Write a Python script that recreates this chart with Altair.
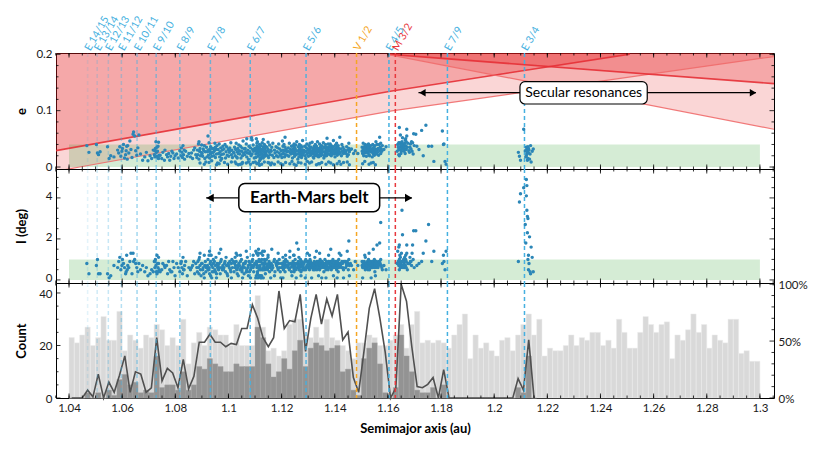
import altair as alt
import pandas as pd
import numpy as np

# ---------------- data ----------------
A_DOMAIN = [1.0351, 1.3053]
E_DOMAIN = [-0.0035, 0.2023]
I_DOMAIN = [-0.15, 5.41]
N_DOMAIN = [0, 43.8]
P_DOMAIN = [0, 101]

# mean-motion resonances
RES_NAME = ["E 14/15", "E 13/14", "E 12/13", "E 11/12", "E 10/11", "E 9/10", "E 8/9",
            "E 7/8", "E 6/7", "E 5/6", "V 1/2", "E 4/5", "M 3/2", "E 7/9", "E 3/4"]
RES_A = [1.0470, 1.0506, 1.0548, 1.0597, 1.0656, 1.0728, 1.0817,
         1.0932, 1.1082, 1.1292, 1.1482, 1.1604, 1.1628, 1.1824, 1.2114]
RES_BODY = ["E"] * 10 + ["V", "E", "M", "E", "E"]
RES_ALPHA = [0.15, 0.25, 0.3, 0.4, 0.5, 0.6, 0.65, 0.75, 0.85, 0.9, 1, 1, 1, 1, 1]

# secular resonance boundaries (a, e)
SEC_A_A = [1.035, 1.1615, 1.251]
SEC_A_E = [0.029, 0.135, 0.2]
SEC_B_A = [1.035, 1.044, 1.1615, 1.3053]
SEC_B_E = [-0.0077, 0.0, 0.0996, 0.196]
SEC_C_A = [1.1597, 1.3053]
SEC_C_E = [0.2, 0.148]
SEC_D_A = [1.1597, 1.3053]
SEC_D_E = [0.2, 0.067]
# band between B and A (upper edge follows A, then the top)
BAND1_A = [1.035, 1.044, 1.1615, 1.251, 1.3053]
BAND1_LO = [-0.0077, 0.0, 0.0996, 0.1596, 0.196]
BAND1_HI = [0.029, 0.0366, 0.135, 0.2023, 0.2023]

# histograms (bins of 0.002 au from 1.04)
BIN0, BINW = 1.04, 0.002
LIGHT = [23, 21, 24, 27, 20, 23, 31, 22, 22, 33,
         18, 24, 22, 19, 24, 23, 28, 26, 20, 23,
         20, 30, 13, 21, 25, 20, 27, 26, 24, 24,
         20, 28, 20, 20, 20, 39, 27, 18, 19, 16,
         18, 28, 30, 30, 24, 23, 27, 23, 30, 23,
         22, 20, 18, 15, 21, 21, 24, 23, 20, 20,
         22, 24, 28, 19, 28, 33, 21, 22, 21, 22,
         21, 19, 24, 28, 32, 15, 24, 19, 21, 18,
         16, 22, 23, 18, 24, 28, 32, 24, 30, 16,
         19, 18, 18, 20, 24, 20, 23, 22, 25, 25,
         20, 22, 19, 30, 25, 19, 19, 25, 31, 28,
         25, 28, 29, 15, 24, 22, 26, 32, 25, 28,
         19, 24, 22, 21, 30, 30, 17, 18, 14, 14]
DARK = [0, 0, 0, 2, 0, 2, 0, 3, 1,
        7, 9, 5, 6, 2, 3, 2, 16, 4, 5, 5, 3, 10, 3, 5,
        12, 11, 15, 13, 12, 10, 10, 13, 12, 12, 12,
        27, 23, 13, 8, 10, 15, 11, 18, 22, 12, 19, 21, 20, 18, 19, 20, 10, 11,
        3, 1, 15, 19, 21, 13, 2, 0, 4, 24, 16, 10, 3, 2, 2, 4, 0, 5, 0,
        0, 0, 0, 0, 0, 0, 0, 0, 0, 0, 0, 0,
        4, 2, 16, 0]
RATIO = [0, 0, 0, 7, 1, 21, 0, 14, 5, 20,
         37, 5, 23, 21, 5, 9, 53, 15, 26, 22,
         9, 34, 8, 19, 49, 49, 56, 49, 49, 45,
         48, 47, 61, 61, 82, 70, 53, 45, 53, 94,
         61, 68, 67, 91, 41, 70, 91, 65, 87, 72,
         91, 51, 58, 18, 5, 41, 79, 96, 70, 40,
         0, 9, 100, 85, 45, 10, 9, 12, 18, 0,
         25, 0, 0, 0, 0, 0, 0, 0, 0, 0,
         0, 0, 0, 0, 17, 7, 51, 0]

# asteroids: per bin k, tokens "dEEII" -> a = bin start + d*0.0002, e = EE/1000, I = II/10 deg
PTS = [
    (3, "33808 72603"),
    (5, "14007 32510 52203 82703"),
    (7, "23603 51501 82002"),
    (8, "41807"),
    (9, "13006 32509 53611 71905 92807"),
    (10, "03310 24008 41606 62203 72904 83712 91405"),
    (11, "03807 22506 44609 63113 81703"),
    (12, "05813 16209 35510 52908 72106 93404"),
    (13, "15708 42305 81207"),
    (14, "21804 52606 81102"),
    (15, "22003 51505 83004"),
    (16, "02209 11806 23310 34507 42604 51903 62808 73706 81511 84408 92105 12909 53512 71604"),
    (17, "12104 41505 62608 91207"),
    (18, "03006 32207 51803 72409 91205"),
    (19, "11904 32804 52509 71506 92002"),
    (20, "22308 51606 82904"),
    (21, "02008 13409 22606 31703 43811 52205 63005 71407 92809"),
    (22, "21902 52406 81805"),
    (23, "02506 21507 43009 63403 82208"),
    (24, "01706 13004 22209 34106 41403 52811 63307 72005 82602 93908 44510 60713"),
    (25, "02408 11905 23206 32903 43812 51507 62709 70904 83506 91806 40501"),
    (26, "02707 13010 22105 34306 41603 52808 63609 72512 81907 93304 15505 43114 62402 81101 30812"),
    (27, "02606 13308 22004 32909 44205 51707 63111 72303 83808 90706 12610 53504 70401"),
    (28, "03107 12405 24108 31806 42703 53409 62210 71506 83005 93707 51215 20613"),
    (29, "02305 13206 20808 34009 41604 52711 63607 72103 93108 80502"),
    (30, "01907 12606 23409 32905 44304 52208 63010 71706 92609 50901"),
    (31, "02504 13508 22006 33107 44209 51805 62712 73306 82407 93908 20911 61603 40613 80402"),
    (32, "02907 12305 23709 31606 42810 53404 62006 74607 82508 93203 50605 20512 60801"),
    (33, "02206 13308 22709 34104 41805 52511 63006 71407 83709 92404 45004 30714 70902"),
    (34, "02708 13405 22006 35207 42309 53110 63906 72804 81607 93308 44807 10501 60812"),
    (35, "00908 11701 12314 22809 23302 33713 34206 42507 43004 51912 52601 63109 63515 72205 72810 83406 84009 91507 92102 93006 44503 60713 25008 81106 30613 80302"),
    (36, "01405 02601 13109 13813 21710 22402 33008 34305 42114 42912 53506 51601 62208 63307 74006 72710 81909 83205 92503 93708 54905 20501 70914"),
    (37, "02406 12810 23507 32005 43106 51708 62609 73904 82206 93007 44411 60707 40812 90401"),
    (38, "02808 13505 22107 34206 51709 63010 72504 93608 10715 60502"),
    (39, "02007 12709 23406 31805 44108 52510 63206 72104 92908 30913 80601"),
    (40, "01706 12308 23011 23707 32405 44009 51807 52906 63504 72210 83109 92707 14606 65308 20401 70812"),
    (41, "02109 12806 23407 31908 44205 52611 63106 72308 83704 92907 50614 91002"),
    (42, "01607 02507 13209 13808 22406 23112 33605 34104 42808 41906 52507 53310 62205 63906 72908 84518 30512 70301"),
    (43, "01406 02308 12907 13609 21805 22411 33107 34006 42707 43305 52010 52908 63804 62408 73009 71707 82608 83507 92106 94705 10815 60702"),
    (44, "02307 13008 22605 33709 42006 52810 63406 74107 82409 93106 51505 40501 81013"),
    (45, "01908 02609 13206 13808 22507 23005 33410 34206 42109 52808 53507 62306 72908 74407 82707 93306 91805 20712 60901"),
    (46, "01606 02408 13009 13707 22105 22811 33406 34008 42607 43206 52008 53708 62409 63005 72708 74506 83309 91807 92906 50414 90602"),
    (47, "02107 02808 13309 14105 22406 23010 33607 32008 42909 43406 52507 53806 62208 63109 72707 84308 93506 91604 10613 50801"),
    (48, "01906 12708 13410 22308 24007 33106 32605 42009 43507 52807 62406 63208 74105 82909 93606 55106 30501 80912"),
    (49, "02208 02906 13507 14109 22506 23208 33805 32008 42707 43306 52409 53009 62810 73607 74706 82306 93108 20715 70402"),
    (50, "01807 02609 13206 13908 22408 23007 33509 34205 42107 42806 53408 52509 62907 63804 72310 73306 82708 95307 40601 81013"),
    (51, "02507 13208 22006 34009 42808 53506 62405 73109 92709 10512 60801"),
    (52, "02906 12408 23607 31909 43008 52205 63310 72707 64219 93108 30914 70402"),
    (53, "13207 52405 82909"),
    (54, "32407"),
    (55, "12809 13507 22406 33108 34206 42007 52906 53609 62508 73305 74011 82707 91908 93806 20601 61012"),
    (56, "02608 03306 13009 13807 22505 23208 33610 34108 42207 42908 53406 52005 63109 72707 73808 83207 92906 40513 80701"),
    (57, "01807 02609 13308 14006 22307 23009 33507 32808 42110 43306 52608 53804 62407 63108 72909 74506 82309 93107 94017 20815 60402"),
    (58, "02608 13306 22107 34009 42909 53508 62410 73207 82806 93805 45318 64228"),
    (59, "23107 63605"),
    (61, "72808 84014 93509"),
    (62, "02209 03107 04316 13510 12005 23508 24312 34106 35711 33007 42406 43708 54209 52813 63309 64507 73607 75222 84006 93210 63934 17017"),
    (63, "02808 03709 14211 13306 24807 22407 35010 33812 44506 43109 55513 56717 63505 74208 92908"),
    (64, "02608 13511 24109 33209 44507 52813 64317 72310 85924 93806"),
    (65, "25824 43707 83108"),
    (66, "36509 62013"),
    (67, "17419 63727"),
    (68, "23709 61014"),
    (70, "26408 44012 54109 71005 90514"),
    (84, "52609 71938 91242"),
    (85, "56745 82927 91818"),
    (86, "02049 03541 12446 13134 21223 22831 33630 31510 43312 42505 53008 61421 72304 83803 90916"),
    (87, "12811 33204"),
]

# ---------------- tables ----------------
W, H1, H2, H3 = 718, 116, 114, 115
FONT = "Lato"
COL_E, COL_V, COL_M = "#45b0e0", "#f5a623", "#e8383d"
RED = "#e41a1c"

rows = []
for k, s in PTS:
    for tok in s.split():
        d, ee, ii = int(tok[0]), int(tok[1:3]), int(tok[3:5])
        rows.append({"a": BIN0 + BINW * k + 0.0002 * d + 0.0001, "e": ee / 1000.0, "inc": ii / 10.0})
pts = pd.DataFrame(rows)

res = pd.DataFrame({"name": RES_NAME, "a": RES_A, "body": RES_BODY, "alpha": RES_ALPHA})

hist_light = pd.DataFrame({"x0": [BIN0 + BINW * k for k in range(len(LIGHT))],
                           "x1": [BIN0 + BINW * (k + 1) for k in range(len(LIGHT))],
                           "n": LIGHT})
hist_dark = pd.DataFrame({"x0": [BIN0 + BINW * k for k in range(len(DARK))],
                          "x1": [BIN0 + BINW * (k + 1) for k in range(len(DARK))],
                          "n": DARK})
ratio = pd.DataFrame({"a": [BIN0 + BINW * (k + 0.5) for k in range(len(RATIO))], "p": RATIO})

xs = alt.Scale(domain=A_DOMAIN, nice=False, zero=False)
es = alt.Scale(domain=E_DOMAIN, nice=False, zero=False)
is_ = alt.Scale(domain=I_DOMAIN, nice=False, zero=False)
ns = alt.Scale(domain=N_DOMAIN, nice=False, zero=False)
ps = alt.Scale(domain=P_DOMAIN, nice=False, zero=False)

X_MAJOR = [round(v, 3) for v in np.arange(1.04, 1.3001, 0.02)]
X_MINOR = [round(v, 3) for v in np.arange(1.035, 1.3051, 0.005)]


def yaxis(title, values, H, fmt=None, expr=None, orient="left", loff=0):
    kw = dict(values=values, ticks=False, tickSize=0, domain=False, grid=False,
              labelPadding=4, labelFontSize=11.5, orient=orient, labelOffset=loff)
    if fmt:
        kw["format"] = fmt
    if expr:
        kw["labelExpr"] = expr
    if title:
        kw.update(title=title, titleX=-35, titleY=H / 2, titleAngle=270,
                  titleAlign="center", titleBaseline="middle",
                  titleFontSize=13, titleFontWeight="bold")
    else:
        kw["title"] = None
    return alt.Axis(**kw)


def xticks(H, ax):
    out = []
    for vals, ln in ((X_MINOR, 2.5), (X_MAJOR, 4.5)):
        b = alt.Chart(pd.DataFrame({"t": vals})).mark_rule(color="black", strokeWidth=0.8)
        out.append(b.encode(x=alt.X("t:Q", scale=xs, axis=ax), y=alt.value(H), y2=alt.value(H - ln)))
        out.append(b.encode(x=alt.X("t:Q", scale=xs, axis=ax), y=alt.value(0), y2=alt.value(ln)))
    return out


def yticks(minor, major, scale, axis, ax, left=True, right=True):
    out = []
    for vals, ln in ((minor, 2.5), (major, 4.5)):
        b = alt.Chart(pd.DataFrame({"t": vals})).mark_rule(color="black", strokeWidth=0.8)
        if left:
            out.append(b.encode(y=alt.Y("t:Q", scale=scale, axis=axis), x=alt.value(0), x2=alt.value(ln)))
        if right:
            out.append(b.encode(y=alt.Y("t:Q", scale=scale, axis=axis), x=alt.value(W), x2=alt.value(W - ln)))
    return out


res_color = alt.Color("body:N", scale=alt.Scale(domain=["E", "V", "M"], range=[COL_E, COL_V, COL_M]), legend=None)


def res_rules(ax):
    return alt.Chart(res).mark_rule(strokeDash=[4, 3], strokeWidth=1.5).encode(
        x=alt.X("a:Q", scale=xs, axis=ax), color=res_color,
        opacity=alt.Opacity("alpha:Q", scale=None, legend=None))


NOX = None

# ---------------- panel 1: eccentricity ----------------
e_axis = yaxis("e", [0, 0.1, 0.2], H1, fmt="~g")


def poly(a, lo, hi):
    return pd.DataFrame({"a": a, "lo": lo, "hi": hi})


def area(df, op):
    return alt.Chart(df).mark_area(color=RED, opacity=op, clip=True).encode(
        x=alt.X("a:Q", scale=xs, axis=NOX),
        y=alt.Y("lo:Q", scale=es, axis=e_axis), y2="hi:Q")


def sec_line(a, e, col, w, op):
    return alt.Chart(pd.DataFrame({"a": a, "e": e})).mark_line(
        color=col, strokeWidth=w, opacity=op, clip=True).encode(
        x=alt.X("a:Q", scale=xs, axis=NOX), y=alt.Y("e:Q", scale=es, axis=e_axis))


top = E_DOMAIN[1]
r1 = area(poly(SEC_A_A, SEC_A_E, [top] * 3), 0.38)
r2 = area(poly(BAND1_A, BAND1_LO, BAND1_HI), 0.18)
r3 = area(poly(SEC_C_A, SEC_C_E, [top, top]), 0.38)
r4 = area(poly(SEC_D_A, SEC_D_E, [top, 0.148]), 0.18)

green_e = alt.Chart(pd.DataFrame({"a0": [1.04], "a1": [1.30], "y0": [0.0], "y1": [0.04]})).mark_rect(
    color="#2ca02c", opacity=0.2).encode(
    x=alt.X("a0:Q", scale=xs, axis=NOX), x2="a1:Q",
    y=alt.Y("y0:Q", scale=es, axis=e_axis), y2="y1:Q")

lA = sec_line(SEC_A_A, SEC_A_E, "#e53036", 1.6, 0.9)
lB = sec_line(SEC_B_A, SEC_B_E, "#ef6b6b", 1.2, 0.9)
lC = sec_line(SEC_C_A, SEC_C_E, "#e53036", 1.6, 0.9)
lD = sec_line(SEC_D_A, SEC_D_E, "#ef6b6b", 1.2, 0.9)

pts_e = alt.Chart(pts).mark_circle(size=12, color="#2b86b7", opacity=1).encode(
    x=alt.X("a:Q", scale=xs, axis=NOX), y=alt.Y("e:Q", scale=es, axis=e_axis))

res_labels = alt.Chart(res).mark_text(angle=300, align="left", baseline="middle", fontSize=10.5,
                                      font=FONT).encode(
    x=alt.X("a:Q", scale=xs, axis=NOX), y=alt.value(-3), text="name:N", color=res_color)

# annotation: secular resonances
SEC_ARROW_A = [1.1730, 1.2974]
SEC_ARROW_E = 0.1319
sec_arrow = alt.Chart(pd.DataFrame({"a": [1.1715], "a2": [1.2985], "e": [SEC_ARROW_E]})).mark_rule(
    color="black", strokeWidth=1.2).encode(x=alt.X("a:Q", scale=xs, axis=NOX), x2="a2:Q",
                                           y=alt.Y("e:Q", scale=es, axis=e_axis))
sec_headL = alt.Chart(pd.DataFrame({"a": [SEC_ARROW_A[0]], "e": [SEC_ARROW_E]})).mark_point(
    shape="triangle-left", filled=True, size=55, color="black", opacity=1).encode(
    x=alt.X("a:Q", scale=xs, axis=NOX), y=alt.Y("e:Q", scale=es, axis=e_axis))
sec_headR = alt.Chart(pd.DataFrame({"a": [SEC_ARROW_A[1]], "e": [SEC_ARROW_E]})).mark_point(
    shape="triangle-right", filled=True, size=55, color="black", opacity=1).encode(
    x=alt.X("a:Q", scale=xs, axis=NOX), y=alt.Y("e:Q", scale=es, axis=e_axis))
sec_box = alt.Chart(pd.DataFrame({"a0": [1.2097], "a1": [1.2576], "y0": [0.1118], "y1": [0.1514]})).mark_rect(
    fill="white", stroke="black", strokeWidth=1.2, cornerRadius=5).encode(
    x=alt.X("a0:Q", scale=xs, axis=NOX), x2="a1:Q", y=alt.Y("y0:Q", scale=es, axis=e_axis), y2="y1:Q")
sec_text = alt.Chart(pd.DataFrame({"a": [1.2337], "e": [0.1316], "t": ["Secular resonances"]})).mark_text(
    fontSize=14, font=FONT, color="black", baseline="middle", align="center").encode(
    x=alt.X("a:Q", scale=xs, axis=NOX), y=alt.Y("e:Q", scale=es, axis=e_axis), text="t:N")

p1 = alt.layer(
    r1, r2, r3, r4, green_e, lA, lB, lC, lD, res_rules(NOX), pts_e,
    sec_arrow, sec_headL, sec_headR, sec_box, sec_text,
    *xticks(H1, NOX),
    *yticks([v / 100 for v in range(2, 20, 2) if v != 10], [0, 0.1, 0.2], es, e_axis, NOX),
    res_labels,
).properties(width=W, height=H1)

# ---------------- panel 2: inclination ----------------
i_axis = yaxis("I (deg)", [0, 2, 4], H2, fmt="d", loff=-1.5)
green_i = alt.Chart(pd.DataFrame({"a0": [1.04], "a1": [1.30], "y0": [0.0], "y1": [1.0]})).mark_rect(
    color="#2ca02c", opacity=0.2).encode(
    x=alt.X("a0:Q", scale=xs, axis=NOX), x2="a1:Q",
    y=alt.Y("y0:Q", scale=is_, axis=i_axis), y2="y1:Q")
pts_i = alt.Chart(pts).mark_circle(size=12, color="#2b86b7", opacity=1).encode(
    x=alt.X("a:Q", scale=xs, axis=NOX), y=alt.Y("inc:Q", scale=is_, axis=i_axis))

EM_ARROW_A = [1.0931, 1.1678]
EM_ARROW_I = 4.0
em_arrow = alt.Chart(pd.DataFrame({"a": [1.0916], "a2": [1.1690], "i": [EM_ARROW_I]})).mark_rule(
    color="black", strokeWidth=1.4).encode(x=alt.X("a:Q", scale=xs, axis=NOX), x2="a2:Q",
                                           y=alt.Y("i:Q", scale=is_, axis=i_axis))
em_headL = alt.Chart(pd.DataFrame({"a": [EM_ARROW_A[0]], "i": [EM_ARROW_I]})).mark_point(
    shape="triangle-left", filled=True, size=70, color="black", opacity=1).encode(
    x=alt.X("a:Q", scale=xs, axis=NOX), y=alt.Y("i:Q", scale=is_, axis=i_axis))
em_headR = alt.Chart(pd.DataFrame({"a": [EM_ARROW_A[1]], "i": [EM_ARROW_I]})).mark_point(
    shape="triangle-right", filled=True, size=70, color="black", opacity=1).encode(
    x=alt.X("a:Q", scale=xs, axis=NOX), y=alt.Y("i:Q", scale=is_, axis=i_axis))
em_box = alt.Chart(pd.DataFrame({"a0": [1.1039], "a1": [1.1569], "y0": [3.33], "y1": [4.70]})).mark_rect(
    fill="white", stroke="black", strokeWidth=1.5, cornerRadius=6).encode(
    x=alt.X("a0:Q", scale=xs, axis=NOX), x2="a1:Q", y=alt.Y("y0:Q", scale=is_, axis=i_axis), y2="y1:Q")
em_text = alt.Chart(pd.DataFrame({"a": [1.1304], "i": [4.0], "t": ["Earth-Mars belt"]})).mark_text(
    fontSize=17, font=FONT, fontWeight="bold", color="black", baseline="middle", align="center").encode(
    x=alt.X("a:Q", scale=xs, axis=NOX), y=alt.Y("i:Q", scale=is_, axis=i_axis), text="t:N")

p2 = alt.layer(
    green_i, res_rules(NOX), pts_i, em_arrow, em_headL, em_headR, em_box, em_text,
    *xticks(H2, NOX),
    *yticks([0.5, 1, 1.5, 2.5, 3, 3.5, 4.5, 5], [0, 2, 4], is_, i_axis, NOX),
).properties(width=W, height=H2)

# ---------------- panel 3: histograms ----------------
n_axis = yaxis("Count", [0, 20, 40], H3, fmt="d", loff=1.5)
p_axis = yaxis(None, [0, 50, 100], H3, expr="datum.value + '%'", orient="right", loff=1)
x_axis = alt.Axis(values=X_MAJOR, format=".2~f", ticks=False, tickSize=0, domain=False, grid=False,
                  labelPadding=4, labelFontSize=11.5, title="Semimajor axis (au)",
                  titleFontSize=13, titleFontWeight="bold", titlePadding=9)

light = alt.Chart(hist_light).mark_rect(color="#d9d9d9", stroke="#ececec", strokeWidth=0.5).encode(
    x=alt.X("x0:Q", scale=xs, axis=x_axis), x2="x1:Q",
    y=alt.Y("n:Q", scale=ns, axis=n_axis), y2=alt.datum(0))
dark = alt.Chart(hist_dark).mark_rect(color="#939393", stroke="#a5a5a5", strokeWidth=0.4).encode(
    x=alt.X("x0:Q", scale=xs, axis=x_axis), x2="x1:Q",
    y=alt.Y("n:Q", scale=ns, axis=n_axis), y2=alt.datum(0))
ratio_line = alt.Chart(ratio).mark_line(color="#505050", strokeWidth=1.6).encode(
    x=alt.X("a:Q", scale=xs, axis=x_axis), y=alt.Y("p:Q", scale=ps, axis=p_axis))

count_layer = alt.layer(light, dark, *yticks([5, 10, 15, 25, 30, 35], [0, 20, 40], ns, n_axis, x_axis, right=False))
pct_layer = alt.layer(ratio_line, *yticks([10, 20, 30, 40, 60, 70, 80, 90], [0, 50, 100], ps, p_axis, x_axis, left=False))

p3 = alt.layer(
    count_layer, pct_layer, res_rules(x_axis),
    *xticks(H3, x_axis),
).resolve_scale(y="independent").properties(width=W, height=H3)

chart = alt.vconcat(p1, p2, p3, spacing=0, bounds="flush").resolve_scale(y="independent").properties(
    padding={"left": 6, "top": 6, "right": 6, "bottom": 6}
).configure(font=FONT).configure_view(stroke="black", strokeWidth=1).configure_axis(
    labelFont=FONT, titleFont=FONT, labelColor="#1a1a1a", titleColor="black")

chart.save("out.html", embed_options={"renderer": "svg", "actions": False})
